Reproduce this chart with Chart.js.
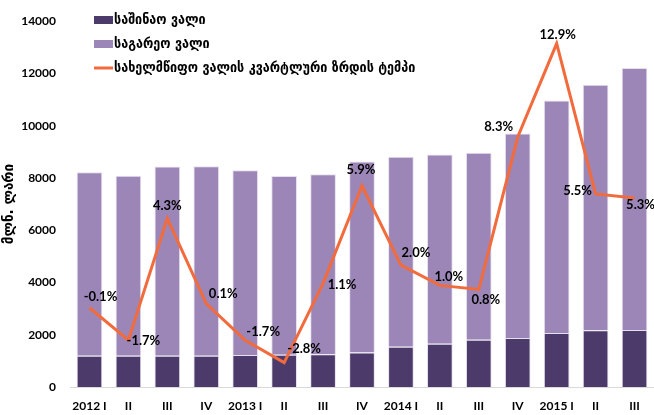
<!DOCTYPE html>
<html>
<head>
<meta charset="utf-8">
<script src="https://cdn.jsdelivr.net/npm/chart.js@4.4.0/dist/chart.umd.min.js"></script>
<style>
  html, body { margin: 0; padding: 0; background: #fff; }
  #wrap { width: 654px; height: 415px; }
</style>
</head>
<body>
<div id="wrap"><canvas id="debtChart"></canvas></div>
<script>
const quarters = ['2012 I', 'II', 'III', 'IV', '2013 I', 'II', 'III', 'IV', '2014 I', 'II', 'III', 'IV', '2015 I', 'II', 'III'];
const domesticDebt = [1192, 1192, 1192, 1192, 1229, 1230, 1255, 1316, 1541, 1654, 1805, 1880, 2068, 2169, 2180];
const externalDebt = [7030, 6891, 7244, 7255, 7068, 6841, 6892, 7319, 7271, 7244, 7157, 7819, 8898, 9399, 10027];
const growthRate = [-0.1, -1.7, 4.3, 0.1, -1.7, -2.8, 1.1, 5.9, 2.0, 1.0, 0.8, 8.3, 12.9, 5.5, 5.3];
const yTicks = [0, 2000, 4000, 6000, 8000, 10000, 12000, 14000];

const seriesNames = ['საშინაო ვალი', 'საგარეო ვალი', 'სახელმწიფო ვალის კვარტლური ზრდის ტემპი'];
const colors = { domestic: '#4b3a6a', external: '#9b86b7', growth: '#f26b3d' };

const tickFont = { family: 'Lato, "Liberation Sans", sans-serif', size: 12, weight: 'bold' };
const georgianFont = 'bold 14px "DejaVu Sans Condensed", "DejaVu Sans", sans-serif';

// where each % label sits relative to its point (dx, dy)
const labelOffsets = [[11, -11], [15, 1], [0, -13], [17, -10], [18, -8], [20, -14], [19, 1], [-1, -16],
    [15, -12], [9, -9], [7, 10], [-19, -10], [1, -9], [-18, -3], [6, 7]];

const growthLabels = {
    id: 'growthLabels',
    afterDatasetsDraw(chart) {
        const meta = chart.getDatasetMeta(2);
        const ctx = chart.ctx;
        ctx.save();
        ctx.font = 'bold 13px Lato, "Liberation Sans", sans-serif';
        ctx.fillStyle = '#000';
        ctx.textAlign = 'center';
        ctx.textBaseline = 'middle';
        meta.data.forEach((pt, i) => {
            const [dx, dy] = labelOffsets[i];
            ctx.fillText(growthRate[i].toFixed(1) + '%', pt.x + dx, pt.y + dy);
        });
        ctx.restore();
    },
};

const sideLegend = {
    id: 'sideLegend',
    afterDraw(chart) {
        const ctx = chart.ctx;
        ctx.save();
        ctx.font = georgianFont;
        ctx.textBaseline = 'middle';
        const rows = [20, 44, 68];
        const sx = 94;
        ctx.fillStyle = colors.domestic;
        ctx.fillRect(sx, rows[0] - 4, 19, 8);
        ctx.fillStyle = colors.external;
        ctx.fillRect(sx, rows[1] - 4, 19, 8);
        ctx.strokeStyle = colors.growth;
        ctx.lineWidth = 3;
        ctx.beginPath();
        ctx.moveTo(sx, rows[2]);
        ctx.lineTo(sx + 19, rows[2]);
        ctx.stroke();
        ctx.fillStyle = '#000';
        seriesNames.forEach((name, i) => ctx.fillText(name, sx + 20, rows[i]));
        ctx.restore();
    },
};

new Chart(document.getElementById('debtChart'), {
    type: 'bar',
    data: {
        labels: quarters,
        datasets: [
            {
                label: seriesNames[0],
                data: domesticDebt,
                backgroundColor: colors.domestic,
                borderColor: '#e6e0ee',
                borderWidth: { top: 1, left: 1, right: 1, bottom: 0 },
                categoryPercentage: 1,
                barPercentage: 0.66,
                order: 2,
            },
            {
                label: seriesNames[1],
                data: externalDebt,
                backgroundColor: colors.external,
                borderColor: '#e6e0ee',
                borderWidth: { top: 1, left: 1, right: 1, bottom: 0 },
                categoryPercentage: 1,
                barPercentage: 0.66,
                order: 2,
            },
            {
                type: 'line',
                label: seriesNames[2],
                data: growthRate,
                yAxisID: 'y1',
                borderColor: colors.growth,
                borderWidth: 3,
                pointRadius: 0,
                tension: 0,
                order: 1,
            },
        ],
    },
    options: {
        animation: false,
        responsive: true,
        maintainAspectRatio: false,
        layout: { padding: { top: 14, right: 0, left: 0, bottom: 0 } },
        scales: {
            x: {
                stacked: true,
                grid: { display: false, drawTicks: false },
                border: { display: true, color: '#d9d9d9', width: 1 },
                ticks: { font: tickFont, color: '#000', padding: 12, maxRotation: 0, autoSkip: false },
                afterFit: (s) => { s.height = 28; },
            },
            y: {
                stacked: true,
                min: 0,
                max: 14000,
                afterBuildTicks: (s) => { s.ticks = yTicks.map((v) => ({ value: v })); },
                grid: { display: false, drawTicks: false },
                border: { display: false },
                ticks: { font: tickFont, color: '#000', padding: 14, callback: (v) => String(v) },
                title: {
                    display: true,
                    text: 'მლნ. ლარი',
                    font: { family: '"DejaVu Sans Condensed", "DejaVu Sans", sans-serif', size: 15, weight: 'bold' },
                    color: '#000',
                    padding: { top: 0, bottom: 0 },
                },
                afterFit: (s) => { s.width = 70; },
            },
            y1: {
                display: false,
                min: -4,
                max: 14,
            },
        },
        plugins: {
            legend: { display: false },
            tooltip: { enabled: false },
        },
    },
    plugins: [growthLabels, sideLegend],
});
</script>
</body>
</html>
